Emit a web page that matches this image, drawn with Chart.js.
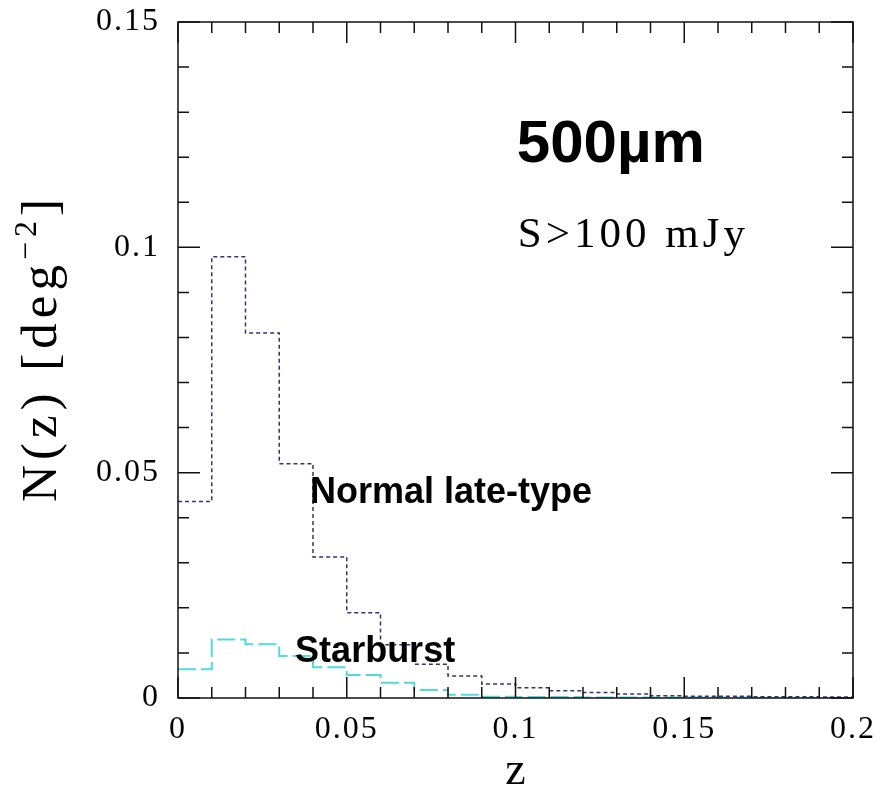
<!DOCTYPE html>
<html>
<head>
<meta charset="utf-8">
<script src="https://cdn.jsdelivr.net/npm/chart.js@4.4.0/dist/chart.umd.min.js"></script>
<style>
  body { margin: 0; background: #fff; }
</style>
</head>
<body>
<canvas id="nzChart" width="883" height="793"></canvas>
<script>
  // bin edges in z, one value per bin (width 0.01)
  var binEdges = [0, 0.01, 0.02, 0.03, 0.04, 0.05, 0.06, 0.07, 0.08, 0.09, 0.10,
                  0.11, 0.12, 0.13, 0.14, 0.15, 0.16, 0.17, 0.18, 0.19, 0.20];
  var normalLate = [0.0436, 0.0979, 0.0810, 0.0520, 0.0313, 0.0189, 0.0118, 0.0075, 0.0049, 0.0031,
                    0.0023, 0.0016, 0.0012, 0.0009, 0.0005, 0.0004, 0.0004, 0.0003, 0.0003, 0.0002];
  var starburst = [0.0064, 0.0130, 0.0119, 0.0093, 0.0068, 0.0051, 0.0034, 0.0018, 0.0007, 0.0003,
                   0.0002, 0.0002, 0.0001, 0.0001, 0.0001, 0.0001, 0.0001, 0.0000, 0.0000, 0.0000];
  var xTicks = [0, 0.05, 0.1, 0.15, 0.2];
  var yTicks = [0, 0.05, 0.1, 0.15];

  // histogram as a stepped line: last bin value repeated at the right edge
  function stepPoints(values) {
    return binEdges.map(function (e, i) {
      return { x: e, y: values[Math.min(i, values.length - 1)] };
    });
  }

  function fmt(v) {
    return String(parseFloat(v.toFixed(3)));
  }

  // a bit of letter spacing for the tick labels (plotting-package look)
  var spacing = {
    id: 'spacing',
    beforeDraw: function (chart) { chart.ctx.letterSpacing = '2px'; }
  };

  // box around the plot with inward ticks on all four sides
  var frameTicks = {
    id: 'frameTicks',
    afterDatasetsDraw: function (chart) {
      var ctx = chart.ctx, a = chart.chartArea;
      var xs = chart.scales.x, ys = chart.scales.y;
      ctx.save();
      ctx.strokeStyle = '#111';
      ctx.lineWidth = 1.5;
      ctx.strokeRect(a.left, a.top, a.right - a.left, a.bottom - a.top);
      ctx.beginPath();
      for (var i = 0; i <= 20; i++) {
        var len = i % 5 === 0 ? 21 : 11;
        var px = xs.getPixelForValue(i / 100);
        ctx.moveTo(px, a.bottom); ctx.lineTo(px, a.bottom - len);
        ctx.moveTo(px, a.top); ctx.lineTo(px, a.top + len);
      }
      for (var j = 0; j <= 15; j++) {
        var len2 = j % 5 === 0 ? 22 : 11;
        var py = ys.getPixelForValue(j / 100);
        ctx.moveTo(a.left, py); ctx.lineTo(a.left + len2, py);
        ctx.moveTo(a.right, py); ctx.lineTo(a.right - len2, py);
      }
      ctx.stroke();
      ctx.restore();
    }
  };

  // axis titles and in-plot labels
  var labels = {
    id: 'labels',
    afterDraw: function (chart) {
      var ctx = chart.ctx, a = chart.chartArea;
      var xs = chart.scales.x, ys = chart.scales.y;
      ctx.save();
      ctx.fillStyle = '#000';
      ctx.textBaseline = 'alphabetic';
      ctx.textAlign = 'left';

      function at(text, font, x, y, sp) {
        ctx.font = font;
        ctx.letterSpacing = sp || '0px';
        ctx.fillText(text, xs.getPixelForValue(x), ys.getPixelForValue(y));
      }
      at('500\u00b5m', 'bold 60px "Liberation Sans", Arial, sans-serif', 0.1004, 0.1189);
      at('S>100 mJy', '43px "Liberation Serif", serif', 0.1007, 0.1001, '4px');
      at('Normal late-type', 'bold 36px "Liberation Sans", Arial, sans-serif', 0.0391, 0.0433);
      at('Starburst', 'bold 36px "Liberation Sans", Arial, sans-serif', 0.0347, 0.0080);

      // x title
      ctx.font = '46px "Liberation Serif", serif';
      ctx.letterSpacing = '0px';
      ctx.textAlign = 'center';
      ctx.fillText('z', (a.left + a.right) / 2, 784);

      // y title, rotated, with superscript
      ctx.textAlign = 'left';
      ctx.letterSpacing = '5px';
      var big = '51px "Liberation Serif", serif', small = '32px "Liberation Serif", serif';
      ctx.font = big;
      var w1 = ctx.measureText('N(z) [deg').width;
      var w3 = ctx.measureText(']').width;
      ctx.font = small;
      var w2 = ctx.measureText('\u22122').width;
      var total = w1 + w2 + w3;
      ctx.translate(a.left - 122, 348);
      ctx.rotate(-Math.PI / 2);
      ctx.font = big;
      ctx.fillText('N(z) [deg', -total / 2, 0);
      ctx.font = small;
      ctx.fillText('\u22122', -total / 2 + w1, -20);
      ctx.font = big;
      ctx.fillText(']', -total / 2 + w1 + w2, 0);
      ctx.restore();
    }
  };

  var ctx = document.getElementById('nzChart').getContext('2d');
  var nzChart = new Chart(ctx, {
    type: 'line',
    data: {
      datasets: [
        {
          label: 'Normal late-type',
          data: stepPoints(normalLate),
          borderColor: '#34347a',
          borderWidth: 1.5,
          borderDash: [4, 3],
          stepped: 'before',
          pointRadius: 0,
          fill: false
        },
        {
          label: 'Starburst',
          data: stepPoints(starburst),
          borderColor: '#52dada',
          borderWidth: 2,
          borderDash: [18, 5],
          stepped: 'before',
          pointRadius: 0,
          fill: false
        }
      ]
    },
    options: {
      responsive: false,
      animation: false,
      layout: { padding: { left: 0, top: 22, right: 30, bottom: 0 } },
      plugins: {
        legend: { display: false },
        tooltip: { enabled: false }
      },
      scales: {
        x: {
          type: 'linear',
          min: 0,
          max: 0.2,
          afterBuildTicks: function (s) { s.ticks = xTicks.map(function (v) { return { value: v }; }); },
          afterFit: function (s) { s.height = 95; s.paddingLeft = 0; s.paddingRight = 0; },
          grid: { display: false, drawTicks: false },
          border: { display: false },
          ticks: {
            padding: 12,
            maxRotation: 0,
            color: '#000',
            font: { family: '"Liberation Serif", serif', size: 32 },
            callback: fmt
          }
        },
        y: {
          type: 'linear',
          min: 0,
          max: 0.15,
          afterBuildTicks: function (s) { s.ticks = yTicks.map(function (v) { return { value: v }; }); },
          afterFit: function (s) { s.width = 178; s.paddingTop = 0; s.paddingBottom = 0; },
          grid: { display: false, drawTicks: false },
          border: { display: false },
          ticks: {
            padding: 18,
            color: '#000',
            font: { family: '"Liberation Serif", serif', size: 32 },
            callback: fmt
          }
        }
      }
    },
    plugins: [spacing, frameTicks, labels]
  });
</script>
</body>
</html>
